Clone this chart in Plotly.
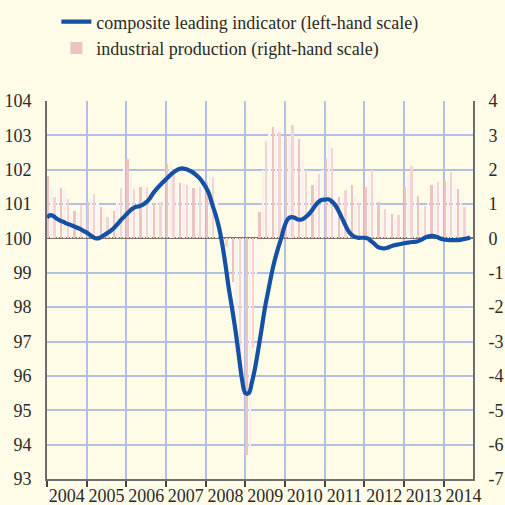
import plotly.graph_objects as go
import pandas as pd

# ---- data ----
cli_start = "2004-01-01"
cli_values = [
    # 2004
    100.61, 100.68, 100.65, 100.57, 100.52, 100.48, 100.43, 100.40, 100.36, 100.32, 100.28, 100.22,
    # 2005
    100.17, 100.10, 100.04, 100.00, 100.02, 100.08, 100.14, 100.20, 100.28, 100.38, 100.50, 100.60,
    # 2006
    100.70, 100.80, 100.87, 100.92, 100.94, 100.98, 101.05, 101.15, 101.30, 101.42, 101.53, 101.63,
    # 2007
    101.72, 101.82, 101.90, 101.97, 102.02, 102.04, 102.02, 101.98, 101.93, 101.86, 101.77, 101.65,
    # 2008
    101.50, 101.30, 101.00, 100.70, 100.35, 99.85, 99.25, 98.55, 97.95, 97.34, 96.60, 95.90,
    # 2009
    95.50, 95.50, 95.80, 96.25, 96.80, 97.40, 98.00, 98.50, 99.00, 99.40, 99.75, 100.05,
    # 2010
    100.40, 100.58, 100.62, 100.60, 100.55, 100.55, 100.60, 100.68, 100.80, 100.93, 101.05, 101.12,
    # 2011
    101.13, 101.14, 101.10, 101.00, 100.85, 100.65, 100.45, 100.25, 100.12, 100.05, 100.02, 100.02,
    # 2012
    100.02, 100.00, 99.93, 99.85, 99.76, 99.72, 99.71, 99.73, 99.77, 99.80, 99.82, 99.84,
    # 2013
    99.86, 99.88, 99.89, 99.90, 99.91, 99.95, 100.00, 100.05, 100.07, 100.07, 100.04, 100.00,
    # 2014
    99.97, 99.96, 99.95, 99.95, 99.95, 99.96, 99.98, 100.00, 100.03,
]

ip_start = "2004-01-01"
ip_values = [
    # 2004
    1.82, 1.46, 1.21, 1.46, 1.46, 1.39, 1.14, 0.80, 0.80, 0.71, 0.96, 0.87,
    # 2005
    1.07, 1.18, 1.29, 1.19, 0.92, 0.84, 0.63, 0.80, 0.80, 1.02, 1.46, 2.04,
    # 2006
    2.30, 1.90, 1.43, 1.26, 1.49, 1.55, 1.50, 1.17, 1.02, 1.02, 1.07, 1.50,
    # 2007
    2.18, 2.17, 2.00, 1.70, 1.60, 1.60, 1.55, 1.50, 1.46, 1.46, 1.49, 1.60,
    # 2008
    1.65, 1.84, 1.78, 1.21, 0.05, -0.10, -0.25, -0.60, -1.26, -2.30, -3.50, -4.90,
    # 2009
    -6.30, -6.10, -3.20, -1.55, 0.78, 2.00, 2.83, 3.10, 3.23, 3.20, 3.10, 2.88,
    # 2010
    2.94, 2.96, 3.30, 2.96, 2.88, 2.28, 2.00, 1.50, 1.55, 1.70, 1.87, 2.00,
    # 2011
    2.33, 2.77, 2.62, 1.41, 1.20, 1.07, 1.41, 1.68, 1.55, 1.21, 1.02, 1.02,
    # 2012
    1.49, 1.82, 2.00, 1.40, 1.07, 0.68, 0.87, 0.75, 0.70, 0.55, 0.68, 0.97,
    # 2013
    1.49, 1.84, 2.10, 1.75, 1.23, 0.83, 0.94, 1.21, 1.55, 1.57, 1.63, 1.40,
    # 2014
    1.68, 1.68, 1.94, 1.65, 1.43, 1.17, 0.92,
]

left_ticks = [93, 94, 95, 96, 97, 98, 99, 100, 101, 102, 103, 104]
right_ticks = [-7, -6, -5, -4, -3, -2, -1, 0, 1, 2, 3, 4]
right_ticktext = ["-7", "-6", "-5", "-4", "-3", "-2", "-1", "0", "1", "2", "3", "4"]

cli_name = "composite leading indicator (left-hand scale)"
ip_name = "industrial production (right-hand scale)"

cli_dates = pd.date_range(cli_start, periods=len(cli_values), freq="MS")
ip_dates = pd.date_range(ip_start, periods=len(ip_values), freq="MS") + pd.Timedelta(days=12)

# ---- styles ----
BG = "#fefce6"
GRID = "#b4bfe6"
AXIS = "#6e6e6e"
FONT = "Liberation Serif"
TXT = "#2a2a2a"
bar_palette = ["#ebc3c3", "#fbf0ef", "#f2d4d4", "#fdf6f4"]
bar_colors = [bar_palette[i % len(bar_palette)] for i in range(len(ip_values))]

fig = go.Figure()

fig.add_trace(go.Bar(
    x=ip_dates, y=ip_values, name=ip_name, yaxis="y",
    marker=dict(color=bar_colors, line=dict(width=0)),
    width=17 * 24 * 3600 * 1000,
    legendrank=2,
))

fig.add_trace(go.Scatter(
    x=cli_dates, y=cli_values, name=cli_name, yaxis="y2",
    mode="lines", line=dict(color="#1450a3", width=4.2, shape="spline", smoothing=1.0),
    legendrank=1,
))

fig.update_layout(
    width=505, height=505,
    margin=dict(l=47, r=32, t=101, b=26, autoexpand=False),
    paper_bgcolor=BG, plot_bgcolor=BG,
    font=dict(family=FONT, size=18, color=TXT),
    showlegend=True,
    legend=dict(
        x=0.022, y=1.258, xanchor="left", yanchor="top",
        bgcolor="rgba(0,0,0,0)", font=dict(family=FONT, size=18, color=TXT),
        itemwidth=30, tracegroupgap=0,
    ),
    bargap=0,
    xaxis=dict(
        type="date",
        range=["2004-01-01", "2014-09-28"],
        dtick="M12", tick0="2004-01-01",
        ticklabelmode="period", tickformat="%Y",
        showgrid=True, gridcolor=GRID, gridwidth=1.5,
        showline=True, linecolor=AXIS, linewidth=2,
        ticks="outside", ticklen=6, tickcolor="#444", tickwidth=1.5,
        ticklabelstandoff=-7,
        tickfont=dict(family=FONT, size=18, color=TXT),
        zeroline=False, automargin=False,
    ),
    yaxis=dict(
        side="right", range=[-7, 4],
        tickvals=right_ticks, ticktext=right_ticktext,
        showgrid=True, gridcolor=GRID, gridwidth=1.5,
        zeroline=True, zerolinecolor="#7d7466", zerolinewidth=2,
        showline=True, linecolor=AXIS, linewidth=2,
        ticks="", ticklabelstandoff=10,
        tickfont=dict(family=FONT, size=18, color=TXT),
        automargin=False,
    ),
    yaxis2=dict(
        side="left", overlaying="y", range=[93, 104],
        tickvals=left_ticks,
        showgrid=False, zeroline=False,
        showline=True, linecolor=AXIS, linewidth=2,
        ticks="", ticklabelstandoff=10,
        tickfont=dict(family=FONT, size=18, color=TXT),
        automargin=False,
    ),
)

fig.write_html(
    "out.html",
    config={"displayModeBar": False},
    post_script="document.body.style.margin='0';document.body.style.padding='0';"
                "document.body.style.overflow='hidden';document.body.style.background='" + BG + "';",
)
